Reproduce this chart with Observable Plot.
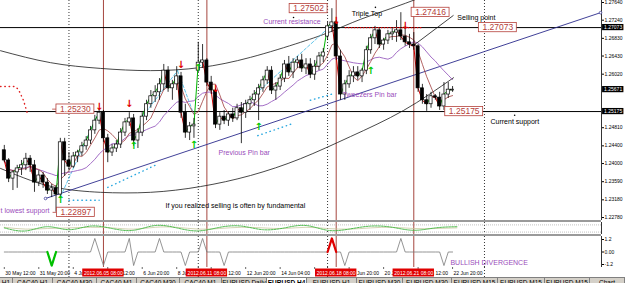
<!DOCTYPE html>
<html>
<head>
<meta charset="utf-8">
<script src="https://cdn.jsdelivr.net/npm/d3@7"></script>
<script src="https://cdn.jsdelivr.net/npm/@observablehq/plot@0.6"></script>
<style>
html,body{margin:0;padding:0;background:#fff;}
#chart{position:relative;width:625px;height:283px;overflow:hidden;font-family:"Liberation Sans",Arial,sans-serif;}
#chart svg{display:block;}
.sep{width:601px;height:2px;background:#9a9a9a;}
#tabs{display:flex;height:6px;background:#d4d0c8;border-top:1px solid #808080;overflow:hidden;}
#tabs span{box-sizing:border-box;flex:none;border-right:1px solid #808080;font-size:6.5px;line-height:9px;text-align:center;white-space:nowrap;overflow:hidden;color:#000;}
#tabs span.on{background:#fff;font-weight:bold;}
</style>
</head>
<body>
<div id="chart"></div>
<script>
// ---- EURUSD H4 candles, 30 May 12:00 .. 22 Jun 20:00 (bar index 0..104) ----
const opens = [1.2430,1.2407,1.2366,1.2380,1.2389,1.2396,1.2411,1.2396,1.2357,1.2373,
 1.2357,1.2339,1.2344,1.2330,1.2448,1.2407,1.2393,1.2416,1.2425,1.2439,
 1.2452,1.2475,1.2497,1.2515,1.2457,1.2425,1.2434,1.2443,1.2470,1.2493,
 1.2502,1.2452,1.2470,1.2506,1.2534,1.2552,1.2561,1.2579,1.2610,1.2570,
 1.2579,1.2597,1.2515,1.2470,1.2484,1.2610,1.2628,1.2633,1.2583,1.2565,
 1.2488,1.2506,1.2497,1.2511,1.2502,1.2525,1.2515,1.2534,1.2543,1.2556,
 1.2570,1.2588,1.2610,1.2565,1.2574,1.2592,1.2624,1.2606,1.2628,1.2633,
 1.2615,1.2624,1.2601,1.2619,1.2642,1.2687,1.2710,1.2719,1.2642,1.2556,
 1.2579,1.2597,1.2606,1.2597,1.2610,1.2656,1.2683,1.2701,1.2669,1.2678,
 1.2692,1.2696,1.2701,1.2687,1.2674,1.2669,1.2665,1.2570,1.2543,1.2534,
 1.2552,1.2549,1.2529,1.2556,1.2565];
const highs = [1.2441,1.2411,1.2384,1.2396,1.2407,1.2423,1.2418,1.2407,1.2384,1.2380,
 1.2366,1.2353,1.2350,1.2457,1.2457,1.2425,1.2425,1.2430,1.2448,1.2461,
 1.2484,1.2509,1.2523,1.2520,1.2466,1.2443,1.2452,1.2479,1.2502,1.2515,
 1.2511,1.2479,1.2515,1.2543,1.2565,1.2576,1.2592,1.2624,1.2619,1.2588,
 1.2619,1.2606,1.2534,1.2493,1.2502,1.2674,1.2669,1.2637,1.2597,1.2570,
 1.2515,1.2520,1.2515,1.2525,1.2534,1.2538,1.2543,1.2552,1.2565,1.2579,
 1.2597,1.2619,1.2619,1.2583,1.2601,1.2633,1.2642,1.2637,1.2642,1.2647,
 1.2637,1.2637,1.2633,1.2651,1.2660,1.2719,1.2750,1.2723,1.2656,1.2588,
 1.2610,1.2619,1.2619,1.2615,1.2665,1.2692,1.2710,1.2705,1.2683,1.2701,
 1.2705,1.2723,1.2741,1.2710,1.2692,1.2696,1.2669,1.2579,1.2556,1.2561,
 1.2556,1.2561,1.2583,1.2583,1.2574];
const lows = [1.2402,1.2357,1.2339,1.2344,1.2373,1.2384,1.2380,1.2335,1.2348,1.2344,
 1.2330,1.2323,1.2290,1.2321,1.2371,1.2384,1.2389,1.2402,1.2416,1.2430,
 1.2443,1.2466,1.2488,1.2448,1.2402,1.2416,1.2425,1.2434,1.2461,1.2484,
 1.2439,1.2434,1.2461,1.2497,1.2525,1.2538,1.2543,1.2565,1.2561,1.2543,
 1.2565,1.2502,1.2457,1.2452,1.2457,1.2606,1.2615,1.2574,1.2556,1.2479,
 1.2475,1.2488,1.2484,1.2493,1.2497,1.2445,1.2502,1.2520,1.2529,1.2497,
 1.2561,1.2579,1.2556,1.2543,1.2565,1.2583,1.2597,1.2592,1.2615,1.2606,
 1.2601,1.2592,1.2588,1.2610,1.2628,1.2678,1.2696,1.2633,1.2543,1.2543,
 1.2570,1.2583,1.2588,1.2583,1.2601,1.2647,1.2669,1.2660,1.2656,1.2669,
 1.2678,1.2674,1.2678,1.2665,1.2660,1.2656,1.2561,1.2534,1.2518,1.2525,
 1.2543,1.2520,1.2520,1.2547,1.2561];
const closes = [1.2407,1.2366,1.2380,1.2389,1.2396,1.2411,1.2396,1.2357,1.2373,1.2357,
 1.2339,1.2344,1.2330,1.2448,1.2407,1.2393,1.2416,1.2425,1.2439,1.2452,
 1.2475,1.2497,1.2515,1.2457,1.2425,1.2434,1.2443,1.2470,1.2493,1.2502,
 1.2452,1.2470,1.2506,1.2534,1.2552,1.2561,1.2579,1.2610,1.2570,1.2579,
 1.2597,1.2515,1.2470,1.2484,1.2488,1.2628,1.2633,1.2583,1.2565,1.2488,
 1.2506,1.2497,1.2511,1.2502,1.2525,1.2515,1.2534,1.2543,1.2556,1.2570,
 1.2588,1.2610,1.2565,1.2574,1.2592,1.2624,1.2606,1.2628,1.2633,1.2615,
 1.2624,1.2601,1.2619,1.2642,1.2651,1.2710,1.2719,1.2642,1.2556,1.2579,
 1.2597,1.2606,1.2597,1.2610,1.2656,1.2683,1.2701,1.2669,1.2678,1.2692,
 1.2696,1.2701,1.2687,1.2674,1.2669,1.2665,1.2570,1.2543,1.2534,1.2552,
 1.2549,1.2529,1.2556,1.2567,1.2567];

// ---- time axis ----
const xLabelBars = [0,8,16,24,32,40,48,56,64,72,80,88,96,104];
const xLabelTexts = ["30 May 12:00","31 May 20:00","4 Jun 04:00","5 Jun 12:00","6 Jun 20:00","8 Jun 04:00","11 Jun 12:00","12 Jun 20:00","14 Jun 04:00","15 Jun 12:00","18 Jun 20:00","20 Jun 04:00","21 Jun 12:00","22 Jun 20:00"];
const eventBars = [23,47,77,95];
const eventTexts = ["2012.06.05 08:00","2012.06.11 08:00","2012.06.18 08:00","2012.06.21 08:00"];
const weekSeparators = [15,45,75,111.4];

// ---- price axis and levels ----
const priceTicks = [1.2764,1.2724,1.2683,1.2643,1.2602,1.2481,1.2440,1.2400,1.2359,1.2318,1.2278];
const levelPrices = [1.27073,1.25175];
const axisTagPrices = [1.27073,1.25671,1.25175];

// ---- drawn objects ----
const upperArcBars = [-0.88,10.72,22.32,33.92,45.52,57.12,68.72,75.68,82.65,89.6,96.56];
const upperArcPrices = [1.2655,1.2628,1.2615,1.2610,1.2617,1.2640,1.2674,1.2698,1.2726,1.2750,1.2775];
const lowerArcBars = [-0.88,6.08,13.04,22.32,33.92,45.52,57.12,68.72,80.32,92.62,104.22];
const lowerArcPrices = [1.2389,1.2362,1.2344,1.2335,1.2335,1.2348,1.2373,1.2411,1.2461,1.2520,1.2594];
const trendBars = [9.56,138.33];
const trendPrices = [1.2321,1.2741];
const pointerBars = [94.94,104.22];
const pointerPrices = [1.2667,1.2735];
const resistanceDotBars = [79,97];
const cyanDashSegs = [[13.04,1.2325,21.85,1.2515],[32.3,1.2509,40.2,1.2610],[40.2,1.2610,43.9,1.2513],[59.2,1.2565,76.4,1.2717]];
const sarBlueSegs = [[15,1.2317,22,1.2317],[24,1.2346,35,1.2396],[58.8,1.2463,67.1,1.2491],[71,1.2543,76.4,1.2558]];
const sarRedBars = [-0.88,2.6,3.3,4.45,5.38];
const sarRedPrices = [1.2574,1.2574,1.2567,1.2543,1.2513];
const sellArrowBars = [22,29,41,49,77,93];
const sellArrowPrices = [1.2529,1.2534,1.2624,1.2570,1.2723,1.2712];
const buyArrowBars = [13,30,44,45,59,85];
const buyArrowPrices = [1.2317,1.2439,1.2443,1.2617,1.2484,1.2610];

// ---- text objects ----
const purpleNotes = ["Current resistance","Tweezers Pin bar","Previous Pin bar","t lowest support"];
const purpleNoteBars = [60.1,78.5,49.7,-0.88];
const purpleNotePrices = [1.2721,1.2556,1.2425,1.2294];
const blackNotes = ["Triple Top","Selling point","Current support","If you realized selling is often by fundamental"];
const blackNoteBars = [80.6,105.1,112.8,37.4];
const blackNotePrices = [1.2739,1.2730,1.2495,1.2305];
const anchorDotBars = [67.1,86.1,118.4];
const anchorDotPrices = [1.2730,1.2753,1.2509];
const tagTexts = ["1.25230","1.22897","1.27502","1.27416","1.27073","1.25175"];
const tagBars = [16.5,16.6,70.6,98.9,114.5,106.7];
const tagPrices = [1.2523,1.22897,1.27502,1.27416,1.27073,1.25175];

// ---- sub-window indicators ----
const oscBars = [0,5,10,15,20,25,30,35,40,45,50,55,60,65,70,75,80,85,90,95,100,105];
const oscGreen = [0.1,-0.4,0.3,-0.2,0.4,0.0,-0.3,0.5,0.1,-0.4,0.2,0.4,-0.2,0.1,0.5,-0.3,-0.1,0.4,0.2,-0.3,0.1,0.3];
const oscGray = [0.2,-0.1,0.0,0.1,0.2,0.1,-0.1,0.2,0.2,-0.1,0.0,0.2,0.1,0.0,0.2,0.0,-0.1,0.1,0.2,0.0,0.0,0.1];
const zzUpBars = [21,29,36,46,76,92];
const zzDownBars = [11,23,30,42,51,79,102];
const zzLevel = 1.3;
const zzStrongDown = 11, zzStrongUp = 76;

const tabTexts = ["H1","CAC40,H1","CAC40,M30","CAC40,M1","CAC40,M30","CAC40,M1","EURUSD,Daily","EURUSD,H4","EURUSD,H1","EURUSD,M30","EURUSD,M30","EURUSD,M15","EURUSD,M15","EURUSD,M15","Chart"];
const tabWidths = [13,40,44,40,43,42,45,40,50,46,49,46,47,45,35];
const activeTab = 7;

// ================= drawing =================
const X0 = -0.882, X1 = 138.55;
const Y0 = 1.22713, Y1 = 1.27685;
const fmt5 = d3.format(".5f");
const FONT = "Liberation Sans, Arial, sans-serif";
const baseStyle = {background: "transparent", fontFamily: FONT, fontSize: "5px", color: "#000", overflow: "hidden"};
const PURPLE = "#9a4dbb", BROWN = "#a5463f", TAGRED = "#b5403a";

const bars = closes.map((c, i) => ({i, o: opens[i], h: highs[i], l: lows[i], c}));
const pairs = bars.slice(1).map((d, k) => ({i0: bars[k].i, c0: bars[k].c, i1: d.i, c1: d.c}));
const pts = (bs, ps) => bs.map((b, k) => ({i: b, p: ps[k]}));
const segs = arr => arr.flatMap((s, k) => [{k, i: s[0], p: s[1]}, {k, i: s[2], p: s[3]}]);
const notes = (t, b, p) => t.map((s, k) => ({t: s, i: b[k], p: p[k]}));
const common = (h) => ({width: 625, height: h, marginTop: 0, marginBottom: 0, marginLeft: 0, marginRight: 24, style: baseStyle});
const xs = {type: "linear", domain: [X0, X1], axis: null};
const frameMarks = () => [
  Plot.ruleX(weekSeparators, {stroke: "#000", strokeDasharray: "1,2", strokeWidth: 0.8}),
  Plot.ruleX([X1], {stroke: "#000", strokeWidth: 0.8})
];

const A = Plot.plot({
  ...common(220),
  x: xs,
  y: {type: "linear", domain: [Y0, Y1], axis: "right", ticks: priceTicks, tickFormat: fmt5, tickSize: 2, tickPadding: 1, label: null},
  marks: [
    ...frameMarks(),
    Plot.ruleX(eventBars, {stroke: BROWN, strokeWidth: 1}),
    Plot.ruleY(levelPrices, {stroke: "#000", strokeWidth: 1}),
    Plot.line(pts(upperArcBars, upperArcPrices), {x: "i", y: "p", curve: "natural", stroke: "#1a1a1a", strokeWidth: 0.8}),
    Plot.line(pts(lowerArcBars, lowerArcPrices), {x: "i", y: "p", curve: "natural", stroke: "#1a1a1a", strokeWidth: 0.8}),
    Plot.line(pts(trendBars, trendPrices), {x: "i", y: "p", stroke: "#2b2b8c", strokeWidth: 0.9}),
    Plot.dot(pts(trendBars, trendPrices), {x: "i", y: "p", r: 1.3, stroke: "#2b2b8c", fill: "#fff", strokeWidth: 0.7}),
    Plot.line(segs(cyanDashSegs), {x: "i", y: "p", z: "k", stroke: "#35b5e5", strokeDasharray: "3,2", strokeWidth: 0.8}),
    Plot.line(segs(sarBlueSegs), {x: "i", y: "p", z: "k", stroke: "#2aa8e0", strokeDasharray: "0.5,3.8", strokeLinecap: "round", strokeWidth: 1.4}),
    Plot.line(pts(sarRedBars, sarRedPrices), {x: "i", y: "p", stroke: "#e02020", strokeDasharray: "0.5,3.8", strokeLinecap: "round", strokeWidth: 1.4}),
    Plot.lineY(bars, Plot.windowY({k: 13, anchor: "end"}, {x: "i", y: "c", stroke: "#9a5fc0", strokeWidth: 0.9})),
    Plot.lineY(bars, Plot.windowY({k: 5, anchor: "end"}, {x: "i", y: "c", stroke: "#a03c3c", strokeWidth: 0.8})),
    Plot.link(pairs, {x1: "i0", y1: "c0", x2: "i1", y2: "c1", stroke: d => d.c1 >= d.c0 ? "#00b400" : "#d00000", strokeWidth: 1}),
    Plot.ruleX(bars, {x: "i", y1: "l", y2: "h", stroke: "#000", strokeWidth: 0.8}),
    Plot.rect(bars, {x1: d => d.i - 0.36, x2: d => d.i + 0.36, y1: "o", y2: "c", fill: d => d.c >= d.o ? "#fff" : "#000", stroke: "#000", strokeWidth: 0.7}),
    Plot.link([{a: resistanceDotBars[0], b: resistanceDotBars[1], p: levelPrices[0]}], {x1: "a", x2: "b", y1: "p", y2: "p", stroke: "#e00000", strokeDasharray: "1.5,1.5", strokeWidth: 1.2}),
    Plot.link([{a: pointerBars[0], b: pointerBars[1], p1: pointerPrices[0], p2: pointerPrices[1]}], {x1: "a", x2: "b", y1: "p1", y2: "p2", stroke: "#111", strokeWidth: 0.8}),
    Plot.text(pts(sellArrowBars, sellArrowPrices), {x: "i", y: "p", text: () => "↓", fill: "#e00000", fontSize: 10, fontWeight: "bold", fontFamily: "DejaVu Sans"}),
    Plot.text(pts(buyArrowBars, buyArrowPrices), {x: "i", y: "p", text: () => "↑", fill: "#00c800", fontSize: 10, fontWeight: "bold", fontFamily: "DejaVu Sans"}),
    Plot.text(notes(purpleNotes, purpleNoteBars, purpleNotePrices), {x: "i", y: "p", text: "t", textAnchor: "start", fill: PURPLE, fontSize: 7}),
    Plot.text(notes(blackNotes, blackNoteBars, blackNotePrices), {x: "i", y: "p", text: "t", textAnchor: "start", fill: "#000", fontSize: 7}),
    Plot.dot(pts(anchorDotBars, anchorDotPrices), {x: "i", y: "p", r: 0.8, fill: "#000"}),
    Plot.link(notes(tagTexts, tagBars, tagPrices).slice(0, 2), {x1: d => d.i - 5.4, x2: d => d.i - 4.4, y1: "p", y2: "p", stroke: TAGRED, strokeWidth: 0.8}),
    Plot.rect(notes(tagTexts, tagBars, tagPrices), {x1: d => d.i - 4.4, x2: d => d.i + 4.4, y1: d => d.p - 0.00105, y2: d => d.p + 0.00105, fill: "#fff", stroke: TAGRED, strokeWidth: 0.8}),
    Plot.text(notes(tagTexts, tagBars, tagPrices), {x: "i", y: "p", text: "t", fill: TAGRED, fontSize: 8.5}),
    Plot.rect(axisTagPrices, {x1: X1 + 0.25, x2: X1 + 5.2, y1: d => d - 0.0007, y2: d => d + 0.0007, fill: "#000"}),
    Plot.text(axisTagPrices, {x: X1 + 2.7, y: d => d, text: d => fmt5(d), fill: "#fff", fontSize: 5})
  ]
});

const oscData = oscBars.map((b, k) => ({i: b, g: oscGreen[k], s: oscGray[k]}));
const B = Plot.plot({
  ...common(12),
  x: xs,
  y: {type: "linear", domain: [-1, 1], axis: null},
  marks: [
    ...frameMarks(),
    Plot.ruleX(eventBars, {stroke: BROWN, strokeWidth: 1}),
    Plot.ruleY([-0.6, 0.6], {stroke: "#999", strokeDasharray: "1,1", strokeWidth: 0.6}),
    Plot.line(oscData, {x: "i", y: "s", curve: "natural", stroke: "#c8c8a0", strokeWidth: 0.8}),
    Plot.line(oscData, {x: "i", y: "g", curve: "natural", stroke: "#3cb43c", strokeDasharray: "2,1", strokeWidth: 0.9})
  ]
});

const zz = closes.map((_, i) => ({i, v: zzUpBars.includes(i) ? zzLevel : zzDownBars.includes(i) ? -zzLevel : 0}));
const C = Plot.plot({
  ...common(31),
  x: xs,
  y: {type: "linear", domain: [-1.488, 1.488], axis: "right", ticks: [1.2, 0, -1.2], tickFormat: d => d === 0 ? "0.00" : String(d), tickSize: 2, tickPadding: 1, label: null},
  marks: [
    ...frameMarks(),
    Plot.ruleX(eventBars, {stroke: BROWN, strokeWidth: 1}),
    Plot.line(zz, {x: "i", y: "v", stroke: "#7a7a7a", strokeWidth: 0.8}),
    Plot.line(zz.filter(d => Math.abs(d.i - zzStrongDown) <= 1), {x: "i", y: "v", stroke: "#00c000", strokeWidth: 2.2}),
    Plot.line(zz.filter(d => Math.abs(d.i - zzStrongUp) <= 1), {x: "i", y: "v", stroke: "#e00000", strokeWidth: 2.2}),
    Plot.text(["BULLISH DIVERGENCE"], {x: 103.5, y: -1.0, text: d => d, textAnchor: "start", fill: PURPLE, fontSize: 7})
  ]
});

const xLabs = xLabelBars.map((b, k) => ({i: b, t: xLabelTexts[k]}));
const evLabs = eventBars.map((b, k) => ({i: b, t: eventTexts[k]}));
const D = Plot.plot({
  ...common(10),
  x: xs,
  y: {type: "linear", domain: [0, 1], axis: null},
  marks: [
    Plot.ruleX(weekSeparators, {stroke: "#000", strokeDasharray: "1,2", strokeWidth: 0.8}),
    Plot.ruleX(xLabs, {x: "i", y1: 0.8, y2: 1, stroke: "#000", strokeWidth: 0.6}),
    Plot.text(xLabs, {x: "i", y: 0.45, text: "t", textAnchor: "start", dx: 1, fontSize: 5, fill: "#000"}),
    Plot.rect(evLabs, {x1: d => d.i - 4.8, x2: d => d.i + 4.8, y1: 0.05, y2: 0.85, fill: "#e00000"}),
    Plot.text(evLabs, {x: "i", y: 0.45, text: "t", fill: "#fff", fontSize: 5})
  ]
});

const chart = document.getElementById("chart");
const sep = () => { const d = document.createElement("div"); d.className = "sep"; return d; };
chart.append(A, sep(), B, sep(), C, D);
const tabs = document.createElement("div");
tabs.id = "tabs";
tabTexts.forEach((t, k) => {
  const s = document.createElement("span");
  s.textContent = t;
  s.style.width = tabWidths[k] + "px";
  if (k === activeTab) s.className = "on";
  tabs.append(s);
});
chart.append(tabs);
</script>
</body>
</html>
